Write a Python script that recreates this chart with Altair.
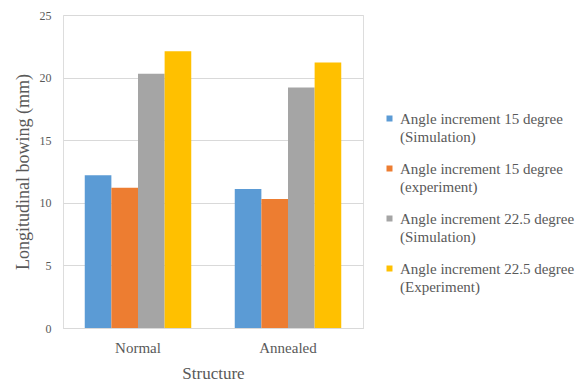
import altair as alt
import pandas as pd

structures = ["Normal", "Annealed"]
series = [
    "Angle increment 15 degree|(Simulation)",
    "Angle increment 15 degree|(experiment)",
    "Angle increment 22.5 degree|(Simulation)",
    "Angle increment 22.5 degree|(Experiment)",
]
normal_vals = [12.2, 11.2, 20.3, 22.1]
annealed_vals = [11.1, 10.3, 19.2, 21.2]
colors = ["#5B9BD5", "#ED7D31", "#A5A5A5", "#FFC000"]

rows = []
for s, v in zip(series, normal_vals):
    rows.append({"Structure": "Normal", "Series": s, "Value": v})
for s, v in zip(series, annealed_vals):
    rows.append({"Structure": "Annealed", "Series": s, "Value": v})
df = pd.DataFrame(rows)

font = "Liberation Serif"
text_color = "#595959"

chart = alt.Chart(df).mark_bar().encode(
    x=alt.X("Structure:N", sort=structures, title="Structure",
            scale=alt.Scale(paddingInner=0.29, paddingOuter=0.145),
            axis=alt.Axis(labelAngle=0, ticks=False, grid=False, domainColor="#D9D9D9",
                          labelColor=text_color, titleColor=text_color,
                          labelFontSize=15, titleFontSize=17, titleFontWeight="normal",
                          labelFont=font, titleFont=font, labelPadding=12, titlePadding=10)),
    xOffset=alt.XOffset("Series:N", sort=series),
    y=alt.Y("Value:Q", title="Longitudinal bowing (mm)",
            scale=alt.Scale(domain=[0, 25]),
            axis=alt.Axis(values=[0, 5, 10, 15, 20, 25], domain=False, ticks=False,
                          gridColor="#D9D9D9", labelColor=text_color, titleColor=text_color,
                          labelFontSize=12, titleFontSize=18, titleFontWeight="normal",
                          labelFont=font, titleFont=font, labelPadding=12, titlePadding=7)),
    color=alt.Color("Series:N", sort=series,
                    scale=alt.Scale(domain=series, range=colors),
                    legend=alt.Legend(title=None, orient="none", legendX=319, legendY=96,
                                      symbolType="square", symbolSize=36,
                                      labelExpr="split(datum.label, '|')",
                                      labelFont=font, labelFontSize=15, labelColor=text_color,
                                      labelLimit=300, labelOffset=3, rowPadding=16)),
).properties(
    width=300, height=313,
    autosize=alt.AutoSizeParams(type="none"),
    padding={"left": 63, "top": 15, "right": 220, "bottom": 59},
)

chart = chart.configure_view(stroke=None).configure(
    background="white",
    font=font,
    style={"guide-label": {"lineHeight": 18.5, "font": font},
           "guide-title": {"font": font}},
)

chart.save("out.html", embed_options={"renderer": "svg", "actions": False})
